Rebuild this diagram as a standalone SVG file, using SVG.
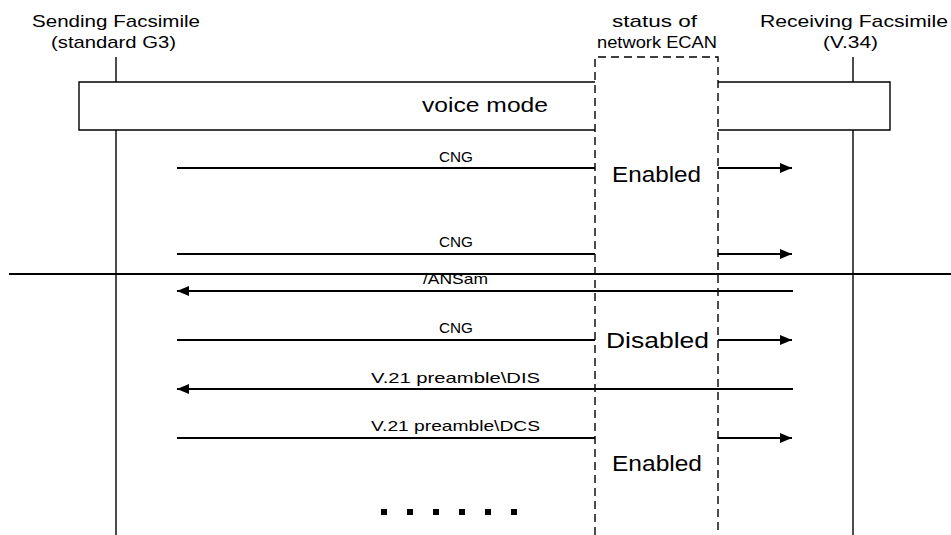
<svg xmlns="http://www.w3.org/2000/svg" width="951" height="535" viewBox="0 0 951 535">
<defs>
<style>
text{font-family:"Liberation Sans",Arial,sans-serif;fill:#000}
.hdr{font-size:17px;text-anchor:start}
.lbl{font-size:15px}
.st{font-size:22px}
.life{stroke:#000;stroke-width:1.4;fill:none}
.msg{stroke:#000;stroke-width:2;fill:none}
.dash{stroke:#000;stroke-width:1.4;fill:none;stroke-dasharray:8 5}
.box{stroke:#000;stroke-width:1.5;fill:#fff}
</style>
<marker id="ah" viewBox="0 0 12 10" refX="12" refY="5" markerWidth="12" markerHeight="10" markerUnits="userSpaceOnUse" orient="auto">
<path d="M0,0 L12,5 L0,10 Z" fill="#000"/>
</marker>
</defs>

<g id="sender">
<text class="hdr" x="32" y="27" textLength="168" lengthAdjust="spacingAndGlyphs">Sending Facsimile</text>
<text class="hdr" x="51" y="48" textLength="125" lengthAdjust="spacingAndGlyphs">(standard G3)</text>
<line class="life" x1="116" y1="57" x2="116" y2="535"/>
</g>

<g id="receiver">
<text class="hdr" x="760" y="27" textLength="188" lengthAdjust="spacingAndGlyphs">Receiving Facsimile</text>
<text class="hdr" x="823" y="48" textLength="55" lengthAdjust="spacingAndGlyphs">(V.34)</text>
<line class="life" x1="853" y1="57" x2="853" y2="535"/>
</g>

<g id="voice-mode">
<rect x="79" y="82" width="811" height="48" fill="#fff"/>
<path class="life" d="M595,82 H79 V130 H595 M718,82 H890 V130 H718" stroke-width="1.5"/>
<text x="422" y="112" font-size="21" textLength="126" lengthAdjust="spacingAndGlyphs">voice mode</text>
</g>

<g id="ecan">
<text class="hdr" x="612" y="27" textLength="85" lengthAdjust="spacingAndGlyphs">status of</text>
<text class="hdr" x="597" y="48" textLength="120" lengthAdjust="spacingAndGlyphs">network ECAN</text>
<path class="dash" d="M595,535 V57 H718 V535"/>
<text class="st" x="612" y="182" textLength="89" lengthAdjust="spacingAndGlyphs">Enabled</text>
<text class="st" x="606" y="348" textLength="103" lengthAdjust="spacingAndGlyphs">Disabled</text>
<text class="st" x="612" y="471" textLength="90" lengthAdjust="spacingAndGlyphs">Enabled</text>
</g>

<g id="connectors">
<line class="msg" x1="177" y1="168" x2="595" y2="168"/>
<line class="msg" x1="718" y1="168" x2="792" y2="168" marker-end="url(#ah)"/>
<line class="msg" x1="177" y1="254" x2="595" y2="254"/>
<line class="msg" x1="718" y1="254" x2="792" y2="254" marker-end="url(#ah)"/>
<line class="msg" x1="9" y1="274" x2="951" y2="274"/>
<line class="msg" x1="793" y1="291" x2="177" y2="291" marker-end="url(#ah)"/>
<line class="msg" x1="177" y1="340" x2="595" y2="340"/>
<line class="msg" x1="718" y1="340" x2="792" y2="340" marker-end="url(#ah)"/>
<line class="msg" x1="793" y1="389" x2="177" y2="389" marker-end="url(#ah)"/>
<line class="msg" x1="177" y1="438" x2="595" y2="438"/>
<line class="msg" x1="718" y1="438" x2="792" y2="438" marker-end="url(#ah)"/>
</g>

<g id="labels">
<text class="lbl" x="439" y="162" textLength="34" lengthAdjust="spacingAndGlyphs">CNG</text>
<text class="lbl" x="439" y="247" textLength="34" lengthAdjust="spacingAndGlyphs">CNG</text>
<text class="lbl" x="423" y="284" textLength="65" lengthAdjust="spacingAndGlyphs">/ANSam</text>
<text class="lbl" x="439" y="333" textLength="34" lengthAdjust="spacingAndGlyphs">CNG</text>
<text class="lbl" x="371" y="383" textLength="169" lengthAdjust="spacingAndGlyphs">V.21 preamble\DIS</text>
<text class="lbl" x="371" y="431" textLength="169" lengthAdjust="spacingAndGlyphs">V.21 preamble\DCS</text>
</g>

<g id="ellipsis" fill="#000">
<rect x="381" y="509" width="6" height="6"/>
<rect x="407" y="509" width="6" height="6"/>
<rect x="433" y="509" width="6" height="6"/>
<rect x="459" y="509" width="6" height="6"/>
<rect x="485" y="509" width="6" height="6"/>
<rect x="511" y="509" width="6" height="6"/>
</g>
</svg>
